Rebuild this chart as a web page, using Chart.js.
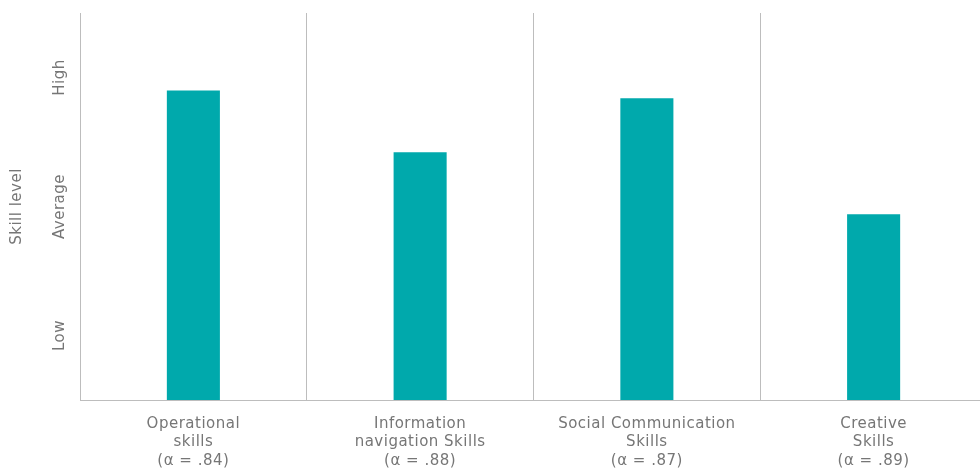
<!DOCTYPE html>
<html>
<head>
<meta charset="utf-8">
<script src="https://cdn.jsdelivr.net/npm/chart.js@4"></script>
<style>
    body { margin: 0; overflow: hidden; background: #fff; }
    #wrap { width: 990px; height: 468px; }
</style>
</head>
<body>
<div id="wrap"><canvas id="skillsChart"></canvas></div>
<script>
const categories = [
    ["Operational", "skills", "(α = .84)"],
    ["Information", "navigation Skills", "(α = .88)"],
    ["Social Communication", "Skills", "(α = .87)"],
    ["Creative", "Skills", "(α = .89)"]
];
const skillValues = [2.90, 2.42, 2.84, 1.94];
const levelTicks = [1, 2, 3];
const levelLabels = ["Low", "Average", "High"];

const textColor = "#767676";
const fontFamily = "'DejaVu Sans', sans-serif";
const fontSize = 15;

// a little letter spacing, the reference text is airy
const spacingPlugin = {
    id: "spacing",
    beforeDraw(chart) {
        chart.ctx.letterSpacing = "0.5px";
    }
};

// rotated level labels on the y axis, placed through the scale
const levelLabelPlugin = {
    id: "levelLabels",
    afterDraw(chart) {
        const yScale = chart.scales.y;
        const ctx = chart.ctx;
        ctx.save();
        ctx.fillStyle = textColor;
        ctx.font = fontSize + "px " + fontFamily;
        ctx.textAlign = "center";
        ctx.textBaseline = "middle";
        levelTicks.forEach((v, i) => {
            const y = yScale.getPixelForValue(v);
            ctx.save();
            ctx.translate(yScale.right - 20, y);
            ctx.rotate(-Math.PI / 2);
            ctx.fillText(levelLabels[i], 0, 0);
            ctx.restore();
        });
        ctx.restore();
    }
};

new Chart(document.getElementById("skillsChart"), {
    type: "bar",
    data: {
        labels: categories,
        datasets: [{
            label: "Skill level",
            data: skillValues,
            backgroundColor: "#00A9AC",
            barPercentage: 0.234,
            categoryPercentage: 1
        }]
    },
    options: {
        responsive: true,
        maintainAspectRatio: false,
        animation: false,
        layout: { padding: { top: 13, right: 3, left: 0, bottom: 0 } },
        scales: {
            x: {
                grid: { display: true, offset: true, color: "#bdbdbd", drawTicks: false },
                border: { display: true, color: "#bdbdbd" },
                ticks: { color: textColor, font: { family: fontFamily, size: fontSize, lineHeight: 1.22 }, padding: 15, maxRotation: 0 },
                afterFit: (scale) => { scale.height = 68; }
            },
            y: {
                min: 0.5,
                max: 3.5,
                grid: { display: false },
                border: { display: true, color: "#bdbdbd" },
                ticks: { display: false },
                title: {
                    display: true,
                    text: "Skill level",
                    color: textColor,
                    font: { family: fontFamily, size: fontSize },
                    padding: { top: 8, bottom: 0 }
                },
                afterFit: (scale) => { scale.width = 80; }
            }
        },
        plugins: {
            legend: { display: false },
            tooltip: { enabled: false }
        }
    },
    plugins: [spacingPlugin, levelLabelPlugin]
});
</script>
</body>
</html>
